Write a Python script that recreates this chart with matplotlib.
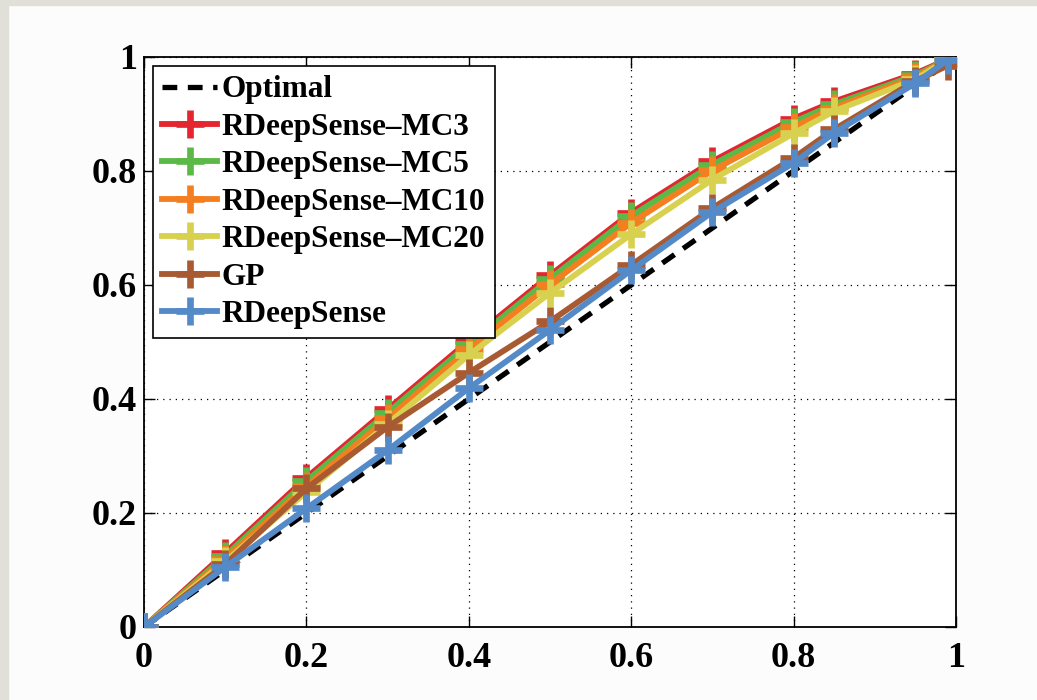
import matplotlib
matplotlib.use("Agg")
import matplotlib.pyplot as plt
from matplotlib.patches import Rectangle

plt.rcParams['font.family'] = ['Liberation Serif', 'DejaVu Serif']
plt.rcParams['font.weight'] = 'bold'

# confidence levels (x) and observed coverage for each model
conf = [0, 0.1, 0.2, 0.3, 0.4, 0.5, 0.6, 0.7, 0.8, 0.85, 0.95, 0.99]
optimal_x = [0, 1]
optimal_y = [0, 1]
mc3 = [0, 0.13, 0.262, 0.382, 0.502, 0.617, 0.727, 0.817, 0.892, 0.922, 0.971, 0.996]
mc5 = [0, 0.125, 0.256, 0.376, 0.496, 0.611, 0.721, 0.811, 0.886, 0.917, 0.968, 0.996]
mc10 = [0, 0.12, 0.247, 0.366, 0.487, 0.601, 0.709, 0.801, 0.877, 0.911, 0.965, 0.996]
mc20 = [0, 0.115, 0.237, 0.356, 0.477, 0.586, 0.689, 0.785, 0.866, 0.905, 0.961, 0.996]
gp = [0, 0.11, 0.243, 0.351, 0.446, 0.536, 0.635, 0.735, 0.823, 0.873, 0.958, 0.985]
rdeep = [0, 0.105, 0.208, 0.31, 0.419, 0.521, 0.626, 0.728, 0.814, 0.867, 0.954, 0.995]

series = [
    ('RDeepSense\u2013MC3', mc3, '#e3262f'),
    ('RDeepSense\u2013MC5', mc5, '#5cb947'),
    ('RDeepSense\u2013MC10', mc10, '#f47f20'),
    ('RDeepSense\u2013MC20', mc20, '#d8d14f'),
    ('GP', gp, '#a85a32'),
    ('RDeepSense', rdeep, '#548ac8'),
]

fig = plt.figure(figsize=(10.37, 7.0), dpi=100)
# grey frame strips along top and left edge
fig.patches.append(Rectangle((0, 0), 8 / 1037, 1, transform=fig.transFigure,
                             color='#e0e0d8', zorder=0))
fig.patches.append(Rectangle((0, 1 - 5 / 700), 1, 5 / 700, transform=fig.transFigure,
                             color='#e0e0d8', zorder=0))

ax = fig.add_axes([0.1389, 0.1043, 0.9219 - 0.1389, 0.9186 - 0.1043])

ax.plot(optimal_x, optimal_y, color='black', lw=3.8, linestyle=(0, (2.8, 2.0)),
        label='Optimal', zorder=2)
for name, vals, col in series:
    ax.plot(conf, vals, color=col, lw=4.2, marker='+', markersize=20,
            markeredgewidth=4.8, label=name, zorder=3)

ax.set_xlim(0, 1)
ax.set_ylim(0, 1)
ticks = [0, 0.2, 0.4, 0.6, 0.8, 1]
ticklabels = ['0', '0.2', '0.4', '0.6', '0.8', '1']
ax.set_xticks(ticks)
ax.set_xticklabels(ticklabels)
ax.set_yticks(ticks)
ax.set_yticklabels(ticklabels)
ax.tick_params(direction='in', length=8, width=1, top=True, right=True,
               labelsize=26)
ax.tick_params(axis='x', pad=11)
ax.tick_params(axis='y', pad=5)
for lab in ax.get_xticklabels() + ax.get_yticklabels():
    lab.set_fontweight('bold')
ax.grid(True, color='black', linestyle=(0, (1, 4)), linewidth=0.9)
for sp in ax.spines.values():
    sp.set_linewidth(1.3)

leg = ax.legend(loc='upper left', bbox_to_anchor=(0.011, 0.984), fontsize=22.5,
                frameon=True, fancybox=False, edgecolor='black', framealpha=1,
                handlelength=1.75, handletextpad=0.15, labelspacing=0.27,
                borderpad=0.3, borderaxespad=0)
leg.get_frame().set_linewidth(1.2)
for t in leg.get_texts():
    t.set_fontweight('bold')

fig.savefig('out.png', dpi=100, facecolor='#fcfcfc')
